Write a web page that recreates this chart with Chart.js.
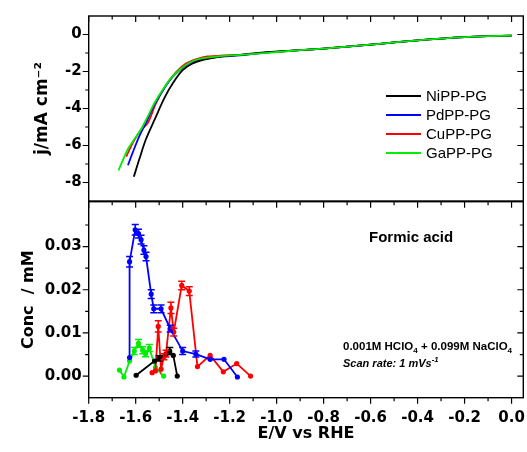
<!DOCTYPE html>
<html>
<head>
<meta charset="utf-8">
<script src="https://cdn.jsdelivr.net/npm/chart.js@4"></script>
<style>
  body { margin: 0; background: #fff; }
  #wrap { position: relative; width: 527px; height: 452px; overflow: hidden; }
  #wrap canvas { position: absolute; left: 0; top: 0; }
  .txt { position: absolute; font-family: "Liberation Sans", Arial, sans-serif; color: #000; white-space: nowrap; }
  .leg { position: absolute; left: 386px; width: 130px; font-family: "Liberation Sans", Arial, sans-serif; font-size: 15px; white-space: nowrap; }
  .leg div { height: 19px; line-height: 19px; position: relative; }
  .leg span.ln { position: absolute; left: 0; top: 9px; width: 35px; height: 2px; }
  .leg span.lb { position: absolute; left: 40px; top: 0; white-space: nowrap; }
  sub, sup { font-size: 70%; line-height: 0; }
</style>
</head>
<body>
<div id="wrap">
  <canvas id="top" width="527" height="452"></canvas>
  <canvas id="bot" width="527" height="452"></canvas>
  <div class="leg" id="legend" style="top:86px"></div>
  <div class="txt" style="left:369px; top:228px; font-size:15px; font-weight:bold;">Formic acid</div>
  <div class="txt" style="left:343px; top:340px; font-size:11.5px; font-weight:bold;">0.001M HClO<sub>4</sub> + 0.099M NaClO<sub>4</sub></div>
  <div class="txt" style="left:343px; top:357px; font-size:11px; font-weight:bold; font-style:italic;">Scan rate: 1 mVs<sup>-1</sup></div>
</div>
<script>
// ---- top panel: current density vs potential ----
const seriesNames = ['NiPP-PG', 'PdPP-PG', 'CuPP-PG', 'GaPP-PG'];
const seriesColors = ['#000000', '#0000ff', '#ff0000', '#00ee00'];

// shared flat part of all four curves (they overlap there)
const tailE = [-0.9, -0.8, -0.7, -0.6, -0.5, -0.4, -0.3, -0.2, -0.1, 0.0];
const tailJ = [-0.85, -0.76, -0.66, -0.55, -0.43, -0.32, -0.22, -0.14, -0.09, -0.06];

const niE = [-1.608, -1.584, -1.556, -1.519, -1.478, -1.442, -1.400, -1.358, -1.309, -1.252, -1.182, -1.111, -1.040, -0.970];
const niJ = [-7.69, -6.72, -5.65, -4.59, -3.44, -2.64, -1.93, -1.57, -1.36, -1.22, -1.13, -1.04, -0.96, -0.89];
const pdE = [-1.633, -1.612, -1.584, -1.556, -1.520, -1.478, -1.436, -1.386, -1.337, -1.280, -1.182, -1.040];
const pdJ = [-7.07, -6.36, -5.48, -4.77, -3.79, -2.90, -2.20, -1.66, -1.40, -1.26, -1.15, -0.98];
const cuE = [-1.640, -1.610, -1.580, -1.548, -1.513, -1.471, -1.429, -1.386, -1.337, -1.294, -1.224, -1.153, -1.040];
const cuJ = [-6.60, -5.80, -5.20, -4.77, -3.70, -2.73, -2.04, -1.57, -1.31, -1.19, -1.13, -1.10, -0.97];
const gaE = [-1.673, -1.655, -1.633, -1.605, -1.577, -1.548, -1.520, -1.485, -1.450, -1.407, -1.365, -1.323, -1.252, -1.153, -1.040];
const gaJ = [-7.34, -6.80, -6.19, -5.65, -5.12, -4.41, -3.70, -2.99, -2.37, -1.84, -1.49, -1.31, -1.19, -1.10, -0.99];

// ---- bottom panel: formic acid concentration ----
const niCE = [-1.423, -1.440, -1.455, -1.471, -1.500, -1.520, -1.598];
const niC  = [0.0000, 0.0048, 0.0058, 0.0050, 0.0041, 0.0035, 0.0002];
const niErr = [0, 0, 0.0008, 0, 0.0006, 0, 0];

const pdCE = [-1.167, -1.224, -1.283, -1.344, -1.400, -1.453, -1.492, -1.523, -1.534, -1.556, -1.565, -1.577, -1.588, -1.602, -1.626, -1.626];
const pdC  = [-0.0002, 0.0039, 0.0039, 0.0051, 0.0058, 0.0110, 0.0156, 0.0156, 0.0190, 0.0277, 0.0292, 0.0316, 0.0330, 0.0339, 0.0265, 0.0043];
const pdErr = [0, 0, 0, 0.0007, 0.0008, 0.0008, 0.0009, 0.0009, 0.0010, 0.0010, 0.0010, 0.0010, 0.0010, 0.0012, 0.0012, 0];

const cuCE = [-1.111, -1.170, -1.227, -1.283, -1.337, -1.372, -1.404, -1.438, -1.450, -1.471, -1.480, -1.492, -1.504, -1.516, -1.530];
const cuC  = [0.0000, 0.0029, 0.0010, 0.0048, 0.0022, 0.0197, 0.0210, 0.0102, 0.0158, 0.0052, 0.0045, 0.0016, 0.0115, 0.0012, 0.0008];
const cuErr = [0, 0, 0, 0, 0, 0.0010, 0.0010, 0.0009, 0.0013, 0.0008, 0.0007, 0, 0.0013, 0, 0];

const gaCE = [-1.481, -1.516, -1.542, -1.558, -1.570, -1.588, -1.606, -1.626, -1.650, -1.669];
const gaC  = [0.0000, 0.0020, 0.0065, 0.0052, 0.0060, 0.0076, 0.0058, 0.0035, -0.0002, 0.0014];
const gaErr = [0, 0, 0.0008, 0.0007, 0.0008, 0.0009, 0.0008, 0, 0, 0];

// tick labels
const eTicks = [-1.8, -1.6, -1.4, -1.2, -1.0, -0.8, -0.6, -0.4, -0.2, 0.0];
const jTicks = [-8, -6, -4, -2, 0];
const concTicks = [0.00, 0.01, 0.02, 0.03];

const pts = (xs, ys) => xs.map((x, i) => ({ x, y: ys[i] }));
const tickFont = { family: 'DejaVu Sans', size: 15, weight: 'bold' };
const titleFont = { family: 'DejaVu Sans', size: 16, weight: 'bold' };

// frame + inside/outside tick marks (major from tick arrays, minor halfway)
function minors(t, min, max) {
  const step = t[1] - t[0];
  const out = [t[0] - step / 2];
  for (let i = 0; i < t.length - 1; i++) out.push((t[i] + t[i + 1]) / 2);
  out.push(t[t.length - 1] + step / 2);
  return out.filter(v => v > min + 1e-9 && v < max - 1e-9);
}
const frameTicks = {
  id: 'frameTicks',
  afterDatasetsDraw(chart, args, o) {
    const { ctx, chartArea: a, scales: { x, y } } = chart;
    ctx.save();
    ctx.strokeStyle = '#000';
    ctx.lineWidth = 1.4;
    ctx.strokeRect(a.left, a.top, a.right - a.left, a.bottom - a.top);
    ctx.lineWidth = 1.2;
    ctx.beginPath();
    const xm = minors(o.xt, x.min, x.max), ym = minors(o.yt, y.min, y.max);
    const mark = (list, len, fn) => list.forEach(v => fn(v, len));
    const left = (v, l) => { const p = y.getPixelForValue(v); ctx.moveTo(a.left, p); ctx.lineTo(a.left - l, p); };
    const right = (v, l) => { const p = y.getPixelForValue(v); ctx.moveTo(a.right, p); ctx.lineTo(a.right - l, p); };
    const top = (v, l) => { const p = x.getPixelForValue(v); ctx.moveTo(p, a.top); ctx.lineTo(p, a.top + l); };
    const bottom = (v, l) => { const p = x.getPixelForValue(v); ctx.moveTo(p, a.bottom); ctx.lineTo(p, a.bottom + l); };
    mark(o.yt, 6, left); mark(ym, 3.5, left);
    mark(o.yt, 6, right); mark(ym, 3.5, right);
    mark(o.xt, 6, top); mark(xm, 3.5, top);
    if (o.bottom) { mark(o.xt, 6, bottom); mark(xm, 3.5, bottom); }
    ctx.stroke();
    ctx.restore();
  }
};

// vertical error bars with caps
const errorBars = {
  id: 'errorBars',
  afterDatasetsDraw(chart) {
    const { ctx, scales: { x, y } } = chart;
    ctx.save();
    chart.data.datasets.forEach(ds => {
      if (!ds.err) return;
      ctx.strokeStyle = ds.borderColor;
      ctx.lineWidth = 1.5;
      ctx.beginPath();
      ds.data.forEach((p, i) => {
        const e = ds.err[i];
        if (!e) return;
        const px = x.getPixelForValue(p.x);
        const y1 = y.getPixelForValue(p.y - e), y2 = y.getPixelForValue(p.y + e);
        ctx.moveTo(px, y1); ctx.lineTo(px, y2);
        ctx.moveTo(px - 3.5, y1); ctx.lineTo(px + 3.5, y1);
        ctx.moveTo(px - 3.5, y2); ctx.lineTo(px + 3.5, y2);
      });
      ctx.stroke();
    });
    ctx.restore();
  }
};

const topSets = [
  [niE, niJ, 1], [pdE, pdJ, 2], [cuE, cuJ, 3], [gaE, gaJ, 0]
].map(([e, j, ord], i) => ({
  label: seriesNames[i],
  data: pts(e.concat(tailE), j.concat(tailJ)),
  borderColor: seriesColors[i],
  borderWidth: 1.8,
  pointRadius: 0,
  tension: 0.35,
  order: ord
}));

new Chart(document.getElementById('top'), {
  type: 'line',
  data: { datasets: topSets },
  options: {
    responsive: false,
    animation: false,
    devicePixelRatio: 1,
    layout: { autoPadding: false, padding: { left: 28, top: 15, right: 3.7, bottom: 251 } },
    plugins: { legend: { display: false }, tooltip: { enabled: false }, frameTicks: { xt: eTicks, yt: jTicks, bottom: false } },
    scales: {
      x: { type: 'linear', min: -1.8, max: 0.05, display: false },
      y: {
        type: 'linear', min: -9, max: 1,
        afterBuildTicks: s => { s.ticks = jTicks.map(v => ({ value: v })); },
        afterFit: s => { s.width = 60.7; },
        grid: { display: false, drawTicks: false },
        border: { display: false },
        ticks: { font: tickFont, color: '#000', padding: 7, callback: v => String(v) },
        title: { display: true, text: 'j/mA cm\u207B\u00B2', color: '#000', font: { family: 'DejaVu Sans', size: 17, weight: 'bold' }, padding: { top: 4, bottom: 4 } }
      }
    }
  },
  plugins: [frameTicks]
});

const botSets = [
  [niCE, niC, niErr], [pdCE, pdC, pdErr], [cuCE, cuC, cuErr], [gaCE, gaC, gaErr]
].map(([e, c, err], i) => ({
  label: seriesNames[i],
  data: pts(e, c),
  err: err,
  borderColor: seriesColors[i],
  backgroundColor: seriesColors[i],
  borderWidth: 1.8,
  pointRadius: 2.6,
  pointBorderWidth: 0,
  tension: 0
}));

new Chart(document.getElementById('bot'), {
  type: 'line',
  data: { datasets: botSets },
  options: {
    responsive: false,
    animation: false,
    devicePixelRatio: 1,
    layout: { autoPadding: false, padding: { left: 15.4, top: 201.7, right: 3.7, bottom: 4.3 } },
    plugins: { legend: { display: false }, tooltip: { enabled: false }, frameTicks: { xt: eTicks, yt: concTicks, bottom: true } },
    scales: {
      x: {
        type: 'linear', min: -1.8, max: 0.05,
        afterBuildTicks: s => { s.ticks = eTicks.map(v => ({ value: v })); },
        afterFit: s => { s.height = 50; s.paddingLeft = 0; s.paddingRight = 0; },
        grid: { display: false, drawTicks: false },
        border: { display: false },
        ticks: { font: tickFont, color: '#000', padding: 11, maxRotation: 0, autoSkip: false, callback: v => v.toFixed(1) },
        title: { display: true, text: 'E/V vs RHE', color: '#000', font: titleFont, padding: { top: 0, bottom: 4 } }
      },
      y: {
        type: 'linear', min: -0.005, max: 0.0404,
        afterBuildTicks: s => { s.ticks = concTicks.map(v => ({ value: v })); },
        afterFit: s => { s.width = 73.3; },
        grid: { display: false, drawTicks: false },
        border: { display: false },
        ticks: { font: tickFont, color: '#000', padding: 7, callback: v => v.toFixed(2) },
        title: { display: true, text: 'Conc  / mM', color: '#000', font: titleFont, padding: { top: 4, bottom: 4 } }
      }
    }
  },
  plugins: [frameTicks, errorBars]
});

// legend
const leg = document.getElementById('legend');
seriesNames.forEach((n, i) => {
  const row = document.createElement('div');
  row.innerHTML = '<span class="ln" style="background:' + seriesColors[i] + '"></span><span class="lb">' + n + '</span>';
  leg.appendChild(row);
});
</script>
</body>
</html>
